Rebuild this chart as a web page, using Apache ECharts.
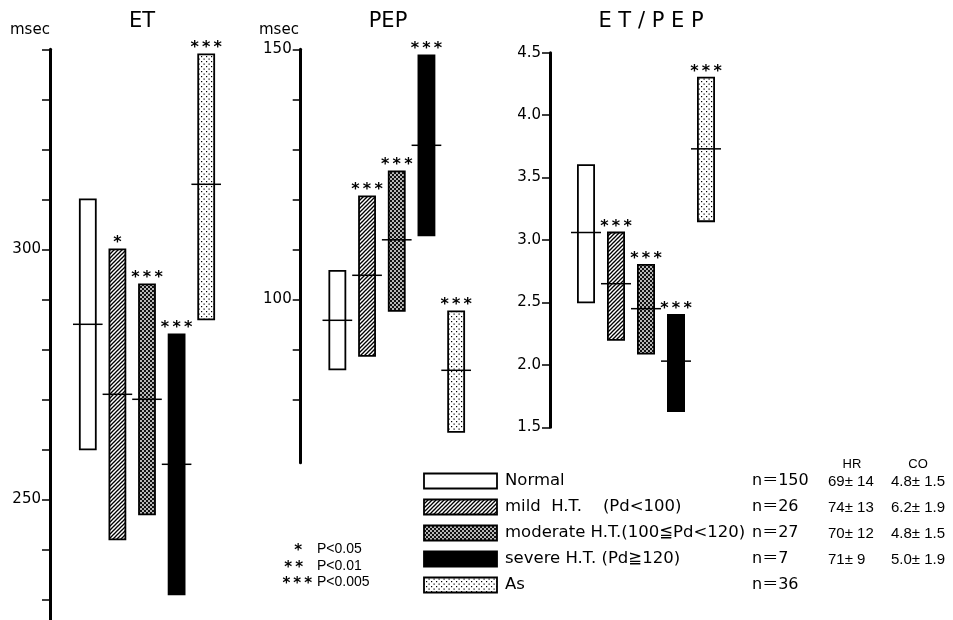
<!DOCTYPE html>
<html><head><meta charset="utf-8">
<script src="https://cdn.jsdelivr.net/npm/echarts@6/dist/echarts.min.js"></script>
<style>html,body{margin:0;padding:0;background:#fff}#c{width:953px;height:620px}</style>
</head><body><div id="c"></div>
<script>
// ---------- data ----------
const groups = ['Normal', 'mild H.T.', 'moderate H.T.', 'severe H.T.', 'As'];

const etMin  = [260, 242, 247, 231, 286];
const etMean = [285, 271, 270, 257, 313];
const etMax  = [310, 300, 293, 283, 339];
const etStars = ['', '*', '***', '***', '***'];

const pepMin  = [86, 88.7, 97.7, 112.8, 73.5];
const pepMean = [95.8, 104.8, 111.9, 130.8, 85.8];
const pepMax  = [105.7, 120.6, 125.6, 148.8, 97.6];
const pepStars = ['', '***', '***', '***', '***'];

const ratioMin  = [2.5, 2.2, 2.09, 1.63, 3.15];
const ratioMean = [3.06, 2.65, 2.45, 2.03, 3.73];
const ratioMax  = [3.6, 3.06, 2.8, 2.4, 4.3];
const ratioStars = ['', '***', '***', '***', '***'];

const etTicks = [230, 240, 250, 260, 270, 280, 290, 300, 310, 320, 330, 340];
const etLabels = [250, 300];
const pepTicks = [80, 90, 100, 110, 120, 130, 140, 150];
const pepLabels = [100, 150];
const ratioTicks = [1.5, 2.0, 2.5, 3.0, 3.5, 4.0, 4.5];

const legendLabels = ['Normal', 'mild  H.T.    (Pd<100)', 'moderate H.T.(100≦Pd<120)', 'severe H.T. (Pd≧120)', 'As'];
const nLabels = ['n＝150', 'n＝26', 'n＝27', 'n＝7', 'n＝36'];
const hrLabels = ['69± 14', '74± 13', '70± 12', '71± 9', ''];
const coLabels = ['4.8± 1.5', '6.2± 1.9', '4.8± 1.5', '5.0± 1.9', ''];
const pStars = ['*', '**', '***'];
const pTexts = ['P<0.05', 'P<0.01', 'P<0.005'];

// ---------- patterns ----------
function mk(w, h, draw) {
  const c = document.createElement('canvas'); c.width = w; c.height = h;
  const g = c.getContext('2d'); draw(g); return {image: c, repeat: 'repeat'};
}
const patHatch = mk(4, 4, g => {
  g.fillStyle = '#fff'; g.fillRect(0, 0, 4, 4);
  g.strokeStyle = '#000'; g.lineWidth = 1.3;
  g.beginPath(); g.moveTo(-1, 5); g.lineTo(5, -1); g.stroke();
  g.beginPath(); g.moveTo(-1, 1); g.lineTo(1, -1); g.stroke();
  g.beginPath(); g.moveTo(3, 5); g.lineTo(5, 3); g.stroke();
});
const patCheck = mk(4, 4, g => {
  g.fillStyle = '#111'; g.fillRect(0, 0, 4, 4);
  g.fillStyle = '#fff';
  g.beginPath(); g.arc(1, 1, 0.95, 0, Math.PI * 2); g.fill();
  g.beginPath(); g.arc(3, 3, 0.95, 0, Math.PI * 2); g.fill();
});
const patDots = mk(5, 5, g => {
  g.fillStyle = '#fff'; g.fillRect(0, 0, 5, 5);
  g.fillStyle = '#000';
  g.fillRect(1, 1, 1.2, 1.2); g.fillRect(3.5, 3.5, 1.2, 1.2);
});
const fills = ['#fff', patHatch, patCheck, '#000', patDots];

const FONT = '"Liberation Sans", Arial, "Noto Sans CJK JP", sans-serif';
const WFONT = '"DejaVu Sans", "Noto Sans CJK JP", sans-serif';
const spaced = s => s.split('').join('\u2009');

function rangeSeries(gi, mins, means, maxs, stars) {
  return {
    type: 'custom', xAxisIndex: gi, yAxisIndex: gi, silent: true,
    data: groups.map((g, i) => [i, mins[i], means[i], maxs[i]]),
    encode: {x: 0, y: [1, 2, 3]},
    renderItem: (params, api) => {
      const i = api.value(0);
      const lo = api.coord([i, api.value(1)]);
      const mid = api.coord([i, api.value(2)]);
      const hi = api.coord([i, api.value(3)]);
      const band = api.size([1, 0])[0];
      const bw = band * 0.54, mw = band * 1.0, x = lo[0];
      return {type: 'group', children: [
        {type: 'rect', shape: {x: x - bw / 2, y: hi[1], width: bw, height: lo[1] - hi[1]},
          style: {fill: fills[i], stroke: '#000', lineWidth: 1.8}},
        {type: 'line', shape: {x1: x - mw / 2, y1: mid[1], x2: x + mw / 2, y2: mid[1]},
          style: {stroke: '#000', lineWidth: 1.5}},
        {type: 'text', x: x, y: hi[1] - 6,
          style: {text: spaced(stars[i]), align: 'center', verticalAlign: 'middle',
            font: 'bold 16px ' + WFONT, fill: '#000'}}
      ]};
    }
  };
}

function yAx(gi, min, max, ticks, labels, offset, fmt) {
  return {
    type: 'value', gridIndex: gi, min: min, max: max, offset: offset, position: 'left',
    axisLine: {show: true, onZero: false, lineStyle: {color: '#000', width: 3}},
    axisTick: {show: true, length: 8, lineStyle: {color: '#000', width: 1.5}, customValues: ticks},
    axisLabel: {customValues: labels, color: '#000', fontSize: 15, fontFamily: WFONT, margin: 9,
      formatter: fmt},
    splitLine: {show: false}
  };
}
function xAx(gi) {
  return {type: 'category', gridIndex: gi, data: groups, show: false};
}

const graphics = [];
function txt(x, y, s, font, align) {
  graphics.push({type: 'text', x: x, y: y,
    style: {text: s, font: font, fill: '#000', align: align || 'left', verticalAlign: 'middle'}});
}
txt(142, 22, 'ET', '21px ' + WFONT, 'center');
txt(388, 22, 'PEP', '21px ' + WFONT, 'center');
txt(651, 22, 'E T / P E P', '21px ' + WFONT, 'center');
txt(10, 30, 'msec', '15px ' + WFONT);
txt(259, 30, 'msec', '15px ' + WFONT);

const rowY = [481, 507, 533, 559, 585];
groups.forEach((g, i) => {
  graphics.push({type: 'rect', shape: {x: 424, y: rowY[i] - 7.5, width: 73, height: 15},
    style: {fill: fills[i], stroke: '#000', lineWidth: 1.8}});
  txt(505, rowY[i], legendLabels[i], '16.5px ' + WFONT);
  txt(752, rowY[i], nLabels[i], '16px ' + WFONT);
  txt(828, rowY[i] + 1, hrLabels[i], '15px ' + FONT);
  txt(891, rowY[i] + 1, coLabels[i], '15px ' + FONT);
});
txt(852, 464, 'HR', '13px ' + FONT, 'center');
txt(918, 464, 'CO', '13px ' + FONT, 'center');
const pY = [549, 566, 582];
const pStarRight = [302, 303, 312];
pStars.forEach((s, i) => {
  txt(pStarRight[i], pY[i] + 2, spaced(s), 'bold 15px ' + WFONT, 'right');
  txt(317, pY[i], pTexts[i], '14px ' + FONT);
});

const chart = echarts.init(document.getElementById('c'), null, {renderer: 'canvas'});
chart.setOption({
  animation: false,
  backgroundColor: '#fff',
  grid: [
    {left: 73, width: 148, top: 49.3, height: 580, outerBoundsMode: 'none', containLabel: false},
    {left: 322.5, width: 148.5, top: 49.3, height: 413.5, outerBoundsMode: 'none', containLabel: false},
    {left: 571, width: 150, top: 52.7, height: 374.6, outerBoundsMode: 'none', containLabel: false}
  ],
  xAxis: [xAx(0), xAx(1), xAx(2)],
  yAxis: [
    yAx(0, 224, 340, etTicks, etLabels, 23),
    yAx(1, 67.3, 150, pepTicks, pepLabels, 21.8),
    yAx(2, 1.5, 4.5, ratioTicks, ratioTicks, 21, v => v.toFixed(1))
  ],
  series: [
    rangeSeries(0, etMin, etMean, etMax, etStars),
    rangeSeries(1, pepMin, pepMean, pepMax, pepStars),
    rangeSeries(2, ratioMin, ratioMean, ratioMax, ratioStars)
  ],
  graphic: graphics
});
</script></body></html>
